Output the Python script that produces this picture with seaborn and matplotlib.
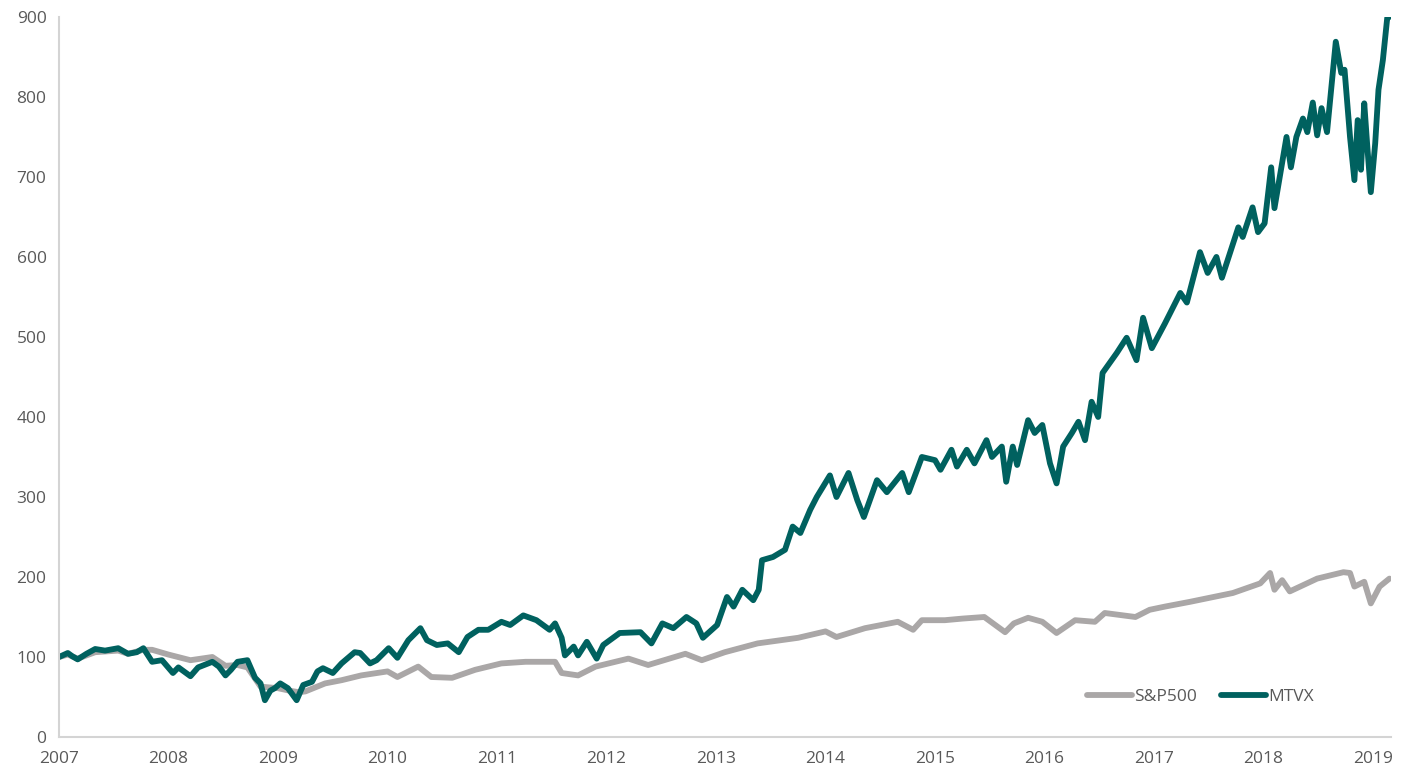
import pandas as pd
import seaborn as sns
from matplotlib import pyplot as plt

# values (decimal year, index level)
mtvx_years = [
    2007.00, 2007.08, 2007.12, 2007.17, 2007.25, 2007.33, 2007.42, 2007.54, 2007.63, 2007.71,
    2007.77, 2007.85, 2007.94, 2008.04, 2008.09, 2008.14, 2008.20, 2008.27, 2008.40, 2008.46,
    2008.52, 2008.57, 2008.63, 2008.72, 2008.79, 2008.84, 2008.88, 2008.93, 2008.97, 2009.02,
    2009.09, 2009.17, 2009.23, 2009.31, 2009.36, 2009.41, 2009.50, 2009.58, 2009.70, 2009.75,
    2009.84, 2009.90, 2010.01, 2010.09, 2010.19, 2010.30, 2010.36, 2010.45, 2010.55, 2010.65,
    2010.73, 2010.83, 2010.92, 2011.04, 2011.12, 2011.24, 2011.36, 2011.48, 2011.53, 2011.59,
    2011.62, 2011.70, 2011.74, 2011.82, 2011.91, 2011.97, 2012.12, 2012.31, 2012.41, 2012.51,
    2012.61, 2012.73, 2012.82, 2012.88, 2013.01, 2013.10, 2013.16, 2013.24, 2013.34, 2013.39,
    2013.42, 2013.52, 2013.63, 2013.70, 2013.77, 2013.86, 2013.92, 2014.04, 2014.10, 2014.21,
    2014.29, 2014.35, 2014.47, 2014.56, 2014.70, 2014.76, 2014.88, 2015.00, 2015.05, 2015.15,
    2015.20, 2015.29, 2015.36, 2015.47, 2015.52, 2015.61, 2015.65, 2015.71, 2015.75, 2015.85,
    2015.91, 2015.98, 2016.05, 2016.11, 2016.17, 2016.25, 2016.31, 2016.37, 2016.43, 2016.49,
    2016.53, 2016.66, 2016.75, 2016.84, 2016.90, 2016.98, 2017.10, 2017.24, 2017.30, 2017.42,
    2017.49, 2017.57, 2017.62, 2017.77, 2017.81, 2017.90, 2017.95, 2018.01, 2018.07, 2018.10,
    2018.21, 2018.25, 2018.30, 2018.36, 2018.40, 2018.45, 2018.49, 2018.53, 2018.58, 2018.62,
    2018.66, 2018.71, 2018.74, 2018.79, 2018.83, 2018.86, 2018.89, 2018.92, 2018.95, 2018.98,
    2019.02, 2019.05, 2019.09, 2019.13, 2019.15,
]
mtvx_values = [
    100, 105, 101, 97, 104, 110, 108, 111, 104, 106,
    111, 94, 96, 80, 87, 82, 76, 87, 94, 88,
    77, 84, 94, 96, 74, 67, 46, 58, 61, 67,
    61, 46, 65, 69, 82, 86, 80, 92, 106, 105,
    92, 96, 111, 99, 121, 136, 121, 115, 117, 106,
    125, 134, 134, 144, 140, 152, 146, 134, 142, 124,
    102, 113, 102, 119, 98, 115, 130, 131, 117, 142,
    136, 150, 142, 124, 140, 175, 163, 184, 171, 184,
    221, 225, 234, 263, 255, 284, 300, 327, 300, 330,
    296, 275, 321, 306, 330, 306, 350, 346, 334, 359,
    338, 359, 342, 371, 350, 363, 319, 363, 340, 396,
    380, 390, 342, 317, 363, 380, 394, 371, 419, 400,
    455, 480, 499, 471, 524, 486, 517, 555, 543, 606,
    580, 600, 574, 637, 625, 662, 631, 642, 712, 661,
    750, 712, 750, 773, 756, 793, 752, 786, 756, 812,
    869, 830, 834, 750, 696, 771, 709, 792, 734, 681,
    742, 809, 846, 899, 900,
]

sp_years = [
    2007.00, 2007.08, 2007.17, 2007.33, 2007.54, 2007.63, 2007.77, 2007.85, 2008.00, 2008.20,
    2008.40, 2008.52, 2008.63, 2008.72, 2008.84, 2009.00, 2009.10, 2009.19, 2009.25, 2009.43,
    2009.58, 2009.76, 2010.00, 2010.09, 2010.28, 2010.40, 2010.59, 2010.80, 2011.04, 2011.26,
    2011.53, 2011.59, 2011.74, 2011.90, 2012.20, 2012.38, 2012.72, 2012.87, 2013.08, 2013.38,
    2013.75, 2014.00, 2014.10, 2014.36, 2014.66, 2014.80, 2014.88, 2015.09, 2015.25, 2015.45,
    2015.64, 2015.72, 2015.85, 2015.98, 2016.11, 2016.28, 2016.46, 2016.55, 2016.83, 2016.96,
    2017.10, 2017.33, 2017.72, 2017.97, 2018.06, 2018.10, 2018.17, 2018.24, 2018.49, 2018.73,
    2018.79, 2018.83, 2018.92, 2018.98, 2019.06, 2019.15,
]
sp_values = [
    100, 103, 98, 106, 108, 104, 109, 109, 103, 96,
    100, 89, 90, 87, 63, 61, 58, 56, 57, 67,
    71, 77, 82, 75, 88, 75, 74, 84, 92, 94,
    94, 80, 77, 88, 98, 90, 104, 96, 106, 117,
    124, 132, 125, 136, 144, 134, 146, 146, 148, 150,
    131, 142, 149, 144, 130, 146, 144, 155, 150, 159,
    163, 169, 180, 192, 205, 184, 196, 182, 198, 206,
    205, 188, 194, 167, 188, 198,
]

year_ticks = list(range(2007, 2020))
value_ticks = list(range(0, 1000, 100))

sns.set_theme(style='white')
plt.rcParams['font.family'] = ['Open Sans', 'DejaVu Sans']

df = pd.concat([
    pd.DataFrame({'Year': sp_years, 'Value': sp_values, 'Series': 'S&P500'}),
    pd.DataFrame({'Year': mtvx_years, 'Value': mtvx_values, 'Series': 'MTVX'}),
])

fig = plt.figure(figsize=(14.06, 7.69), dpi=100)
ax = fig.add_axes([0.042, 0.0416, 0.947, 0.9364])
sns.lineplot(data=df, x='Year', y='Value', hue='Series', sort=False,
             palette={'S&P500': '#aaa7a7', 'MTVX': '#00615f'},
             linewidth=4.2, ax=ax)

ax.set_xlim(2007, 2019.16)
ax.set_ylim(0, 900)
ax.set_xticks(year_ticks)
ax.set_xticklabels([str(y) for y in year_ticks])
ax.set_yticks(value_ticks)
ax.set_xlabel('')
ax.set_ylabel('')

grey = '#d4d4d4'
for side in ['top', 'right']:
    ax.spines[side].set_visible(False)
for side in ['left', 'bottom']:
    ax.spines[side].set_color(grey)
    ax.spines[side].set_linewidth(1.5)
ax.tick_params(axis='both', colors=grey, labelcolor='#595959', labelsize=12.5,
               length=5, width=1.2, direction='out')
ax.tick_params(axis='x', pad=5)
ax.tick_params(axis='y', pad=4)

ax.legend(loc='center right', bbox_to_anchor=(0.954, 0.055), ncol=2, frameon=False,
          fontsize=12.5, handlelength=2.6, handletextpad=0.1, columnspacing=1.4,
          labelcolor='#595959')

plt.savefig('out.png', dpi=100)
